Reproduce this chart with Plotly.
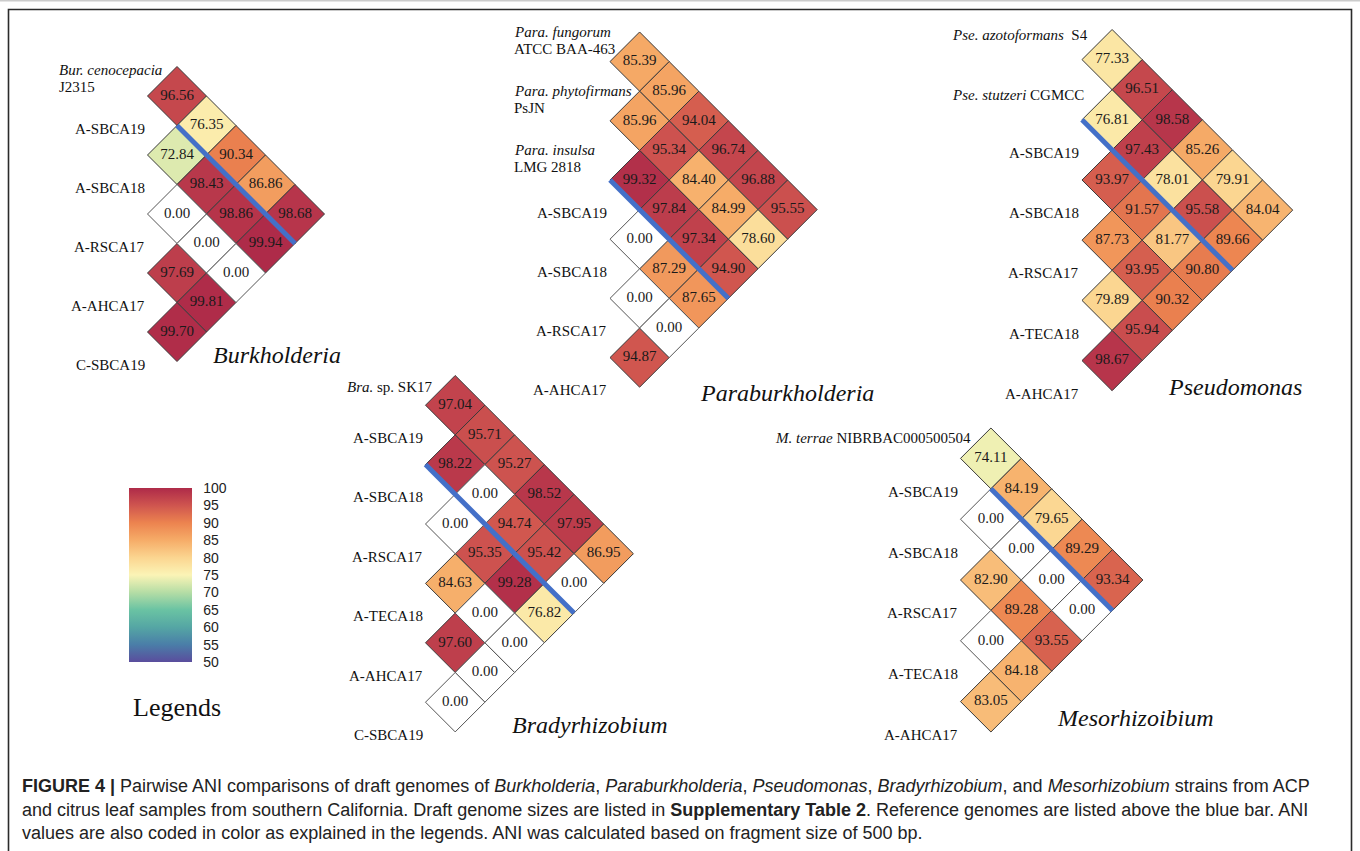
import plotly.graph_objects as go

# ---------------------------------------------------------------------------
# Pairwise ANI values (upper triangle, row i lists pairs (i, i+1 .. n-1))
# ---------------------------------------------------------------------------
burk_strains = ["<i>Bur. cenocepacia</i><br>J2315", "A-SBCA19", "A-SBCA18",
                "A-RSCA17", "A-AHCA17", "C-SBCA19"]
burk_ani = [
    [96.56, 76.35, 90.34, 86.86, 98.68],
    [72.84, 98.43, 98.86, 99.94],
    [0.00, 0.00, 0.00],
    [97.69, 99.81],
    [99.70],
]

para_strains = ["<i>Para. fungorum</i><br>ATCC BAA-463", "<i>Para. phytofirmans</i><br>PsJN",
                "<i>Para. insulsa</i><br>LMG 2818", "A-SBCA19", "A-SBCA18", "A-RSCA17", "A-AHCA17"]
para_ani = [
    [85.39, 85.96, 94.04, 96.74, 96.88, 95.55],
    [85.96, 95.34, 84.40, 84.99, 78.60],
    [99.32, 97.84, 97.34, 94.90],
    [0.00, 87.29, 87.65],
    [0.00, 0.00],
    [94.87],
]

pse_strains = ["<i>Pse. azotoformans</i>  S4", "<i>Pse. stutzeri</i> CGMCC", "A-SBCA19",
               "A-SBCA18", "A-RSCA17", "A-TECA18", "A-AHCA17"]
pse_ani = [
    [77.33, 96.51, 98.58, 85.26, 79.91, 84.04],
    [76.81, 97.43, 78.01, 95.58, 89.66],
    [93.97, 91.57, 81.77, 90.80],
    [87.73, 93.95, 90.32],
    [79.89, 95.94],
    [98.67],
]

bra_strains = ["<i>Bra.</i> sp. SK17", "A-SBCA19", "A-SBCA18", "A-RSCA17",
               "A-TECA18", "A-AHCA17", "C-SBCA19"]
bra_ani = [
    [97.04, 95.71, 95.27, 98.52, 97.95, 86.95],
    [98.22, 0.00, 94.74, 95.42, 0.00],
    [0.00, 95.35, 99.28, 76.82],
    [84.63, 0.00, 0.00],
    [97.60, 0.00],
    [0.00],
]

meso_strains = ["<i>M. terrae</i> NIBRBAC000500504", "A-SBCA19", "A-SBCA18",
                "A-RSCA17", "A-TECA18", "A-AHCA17"]
meso_ani = [
    [74.11, 84.19, 79.65, 89.29, 93.34],
    [0.00, 0.00, 0.00, 0.00],
    [82.90, 89.28, 93.55],
    [0.00, 84.18],
    [83.05],
]

colorbar_ticks = [50, 55, 60, 65, 70, 75, 80, 85, 90, 95, 100]

# soft spectral ramp, 50 -> 100
ani_colorscale = [
    [0.0, "#5a4d9d"], [0.1, "#4a7ea8"], [0.2, "#55a6a4"], [0.3, "#6ac3a3"],
    [0.4, "#b5dda5"], [0.5, "#fbf4b6"], [0.6, "#fbd590"], [0.7, "#f6ac68"],
    [0.8, "#ec834f"], [0.9, "#cf554f"], [1.0, "#ae2a49"],
]

# ---------------------------------------------------------------------------
# Panel geometry (page pixels): left tip x, top y, half-diagonal of a cell
# ---------------------------------------------------------------------------
panels = [
    dict(name="Burkholderia", strains=burk_strains, ani=burk_ani, n_ref=1,
         x0=147.5, y0=66.5, d=29.5, ref_x=56.5, ref_dy=3.5, bar=(0, 2),
         title_xy=(211, 355)),
    dict(name="Paraburkholderia", strains=para_strains, ani=para_ani, n_ref=3,
         x0=610.0, y0=32.0, d=29.6, ref_x=511.5, ref_dy=0.0, bar=(2, 3),
         title_xy=(698, 393)),
    dict(name="Pseudomonas", strains=pse_strains, ani=pse_ani, n_ref=2,
         x0=1082.0, y0=29.5, d=30.1, ref_x=949.5, ref_dy=5.0, bar=(1, 2),
         title_xy=(1166, 387)),
    dict(name="Bradyrhizobium", strains=bra_strains, ani=bra_ani, n_ref=1,
         x0=425.5, y0=375.5, d=29.7, ref_x=345.0, ref_dy=11.0, bar=(1, 2),
         title_xy=(510, 725)),
    dict(name="Mesorhizoibium", strains=meso_strains, ani=meso_ani, n_ref=1,
         x0=960.5, y0=428.0, d=30.4, ref_x=773.0, ref_dy=10.0, bar=(0, 2),
         title_xy=(1055, 718)),
]

SERIF = "Liberation Serif"
SANS = "Liberation Sans"
W, H = 1360, 851

fig = go.Figure()
annotations = []


def cell_center(p, i, j):
    return p["x0"] + (j - i) * p["d"], p["y0"] + (i + j) * p["d"]


first = True
for p in panels:
    n = len(p["strains"])
    xs, ys, vs = [], [], []
    zx, zy, zv = [], [], []
    for i, row in enumerate(p["ani"]):
        for k, v in enumerate(row):
            j = i + 1 + k
            cx, cy = cell_center(p, i, j)
            if v > 0:
                xs.append(cx); ys.append(cy); vs.append(v)
            else:
                zx.append(cx); zy.append(cy); zv.append(v)
    size = p["d"] / 0.65  # plotly diamond half-diagonal = 0.65 * size

    fig.add_trace(go.Scatter(
        x=xs, y=ys, mode="markers+text",
        text=[f"{v:.2f}" for v in vs], textposition="middle center",
        textfont=dict(family=SERIF, size=15, color="#1a1a1a"),
        marker=dict(symbol="diamond", size=size, color=vs,
                    colorscale=ani_colorscale, cmin=50, cmax=100,
                    line=dict(color="#3a3a3a", width=1),
                    showscale=first,
                    colorbar=dict(
                        x=129 / W, xanchor="left", xref="paper",
                        y=1 - 575 / H, yanchor="middle", yref="paper",
                        len=174, lenmode="pixels",
                        thickness=63, thicknessmode="pixels",
                        xpad=0, ypad=0, outlinewidth=0,
                        tickvals=colorbar_ticks, ticks="outside", ticklen=9,
                        tickcolor="rgba(0,0,0,0)",
                        tickfont=dict(family=SANS, size=14, color="#222"),
                    )),
        hoverinfo="skip", showlegend=False,
    ))
    first = False
    if zx:
        fig.add_trace(go.Scatter(
            x=zx, y=zy, mode="markers+text",
            text=[f"{v:.2f}" for v in zv], textposition="middle center",
            textfont=dict(family=SERIF, size=15, color="#1a1a1a"),
            marker=dict(symbol="diamond", size=size, color="white",
                        line=dict(color="#555555", width=1)),
            hoverinfo="skip", showlegend=False,
        ))

    # blue bar separating the reference genomes
    r, c = p["bar"]
    sx, sy = cell_center(p, r, c)
    ex, ey = cell_center(p, r, n - 1)
    fig.add_trace(go.Scatter(
        x=[sx - p["d"], ex], y=[sy, ey + p["d"]], mode="lines",
        line=dict(color="#4470c8", width=5),
        hoverinfo="skip", showlegend=False,
    ))

    # strain labels along the left edge
    for k, name in enumerate(p["strains"]):
        vy = p["y0"] + 2 * k * p["d"]
        if k < p["n_ref"]:
            for li, line in enumerate(name.split("<br>")):
                annotations.append(dict(
                    x=p["ref_x"], y=vy + p["ref_dy"] + 17 * li, xref="x", yref="y",
                    text=line, showarrow=False, xanchor="left", yanchor="middle",
                    font=dict(family=SERIF, size=15, color="#111")))
        else:
            annotations.append(dict(
                x=p["x0"] - 1, y=vy + 3, xref="x", yref="y",
                text=name, showarrow=False, xanchor="right", yanchor="middle",
                font=dict(family=SERIF, size=15, color="#111")))

    tx, ty = p["title_xy"]
    annotations.append(dict(
        x=tx, y=ty, xref="x", yref="y", text=f"<i>{p['name']}</i>",
        showarrow=False, xanchor="left", yanchor="middle",
        font=dict(family=SERIF, size=24, color="#111")))

annotations.append(dict(
    x=131, y=707, xref="x", yref="y", text="Legends", showarrow=False,
    xanchor="left", yanchor="middle", font=dict(family=SERIF, size=26, color="#111")))

caption_lines = [
    "<b>FIGURE 4 |</b> Pairwise ANI comparisons of draft genomes of <i>Burkholderia</i>, "
    "<i>Paraburkholderia</i>, <i>Pseudomonas</i>, <i>Bradyrhizobium</i>, and "
    "<i>Mesorhizobium</i> strains from ACP",
    "and citrus leaf samples from southern California. Draft genome sizes are listed in "
    "<b>Supplementary Table 2</b>. Reference genomes are listed above the blue bar. ANI",
    "values are also coded in color as explained in the legends. ANI was calculated based "
    "on fragment size of 500 bp.",
]
for li, line in enumerate(caption_lines):
    annotations.append(dict(
        x=20, y=786 + 23.5 * li, xref="x", yref="y", text=line, showarrow=False,
        xanchor="left", yanchor="middle", font=dict(family=SANS, size=18, color="#222")))

fig.update_layout(
    width=W, height=H, margin=dict(l=0, r=0, t=0, b=0),
    paper_bgcolor="white", plot_bgcolor="white",
    xaxis=dict(range=[0, W], visible=False, fixedrange=True),
    yaxis=dict(range=[H, 0], visible=False, fixedrange=True),
    annotations=annotations,
    shapes=[
        dict(type="rect", xref="x", yref="y", x0=8.5, y0=9.5, x1=1351.5, y1=H + 20,
             line=dict(color="#2b2b2b", width=1.6)),
        dict(type="line", xref="x", yref="y", x0=0, y0=0.8, x1=W, y1=0.8,
             line=dict(color="#cccccc", width=1.6)),
    ],
)

fig.write_html("out.html")
